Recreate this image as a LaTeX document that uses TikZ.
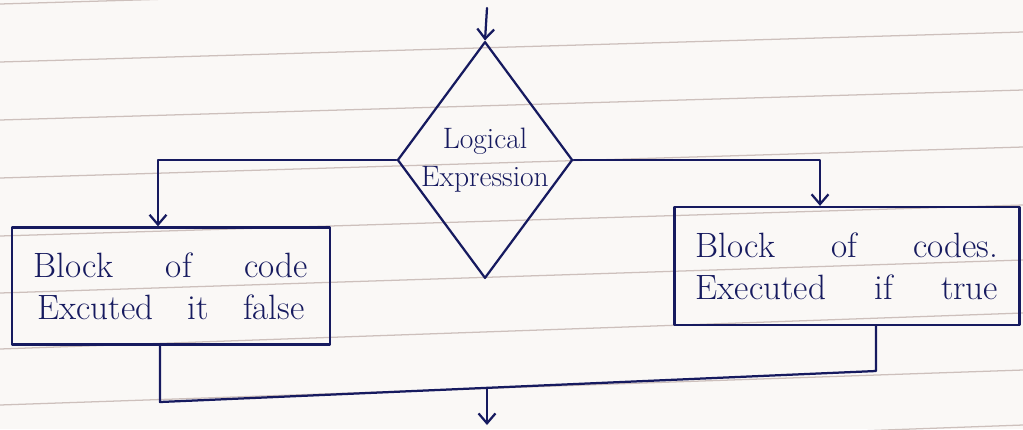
\documentclass[tikz,border=0pt]{standalone}
\usetikzlibrary{shapes.geometric,arrows.meta}
\definecolor{ink}{RGB}{22,26,95}
\definecolor{paper}{RGB}{250,248,246}
\definecolor{ruling}{RGB}{205,192,188}
\begin{document}
\begin{tikzpicture}[x=0.025cm,y=-0.025cm,
  inkline/.style={draw=ink,line width=1.6pt,line cap=round,line join=round},
  arr/.style={inkline,-{Straight Barb[length=7pt,width=12pt]}},
  codebox/.style={inkline,rectangle,inner sep=0pt,align=center,text=ink,font=\fontsize{25}{30}\selectfont},
  decision/.style={inkline,diamond,aspect=0.74,inner sep=0pt,minimum width=4.25cm,minimum height=5.75cm,text=ink,align=center,font=\fontsize{21}{27}\selectfont}]
\useasboundingbox (0,0) rectangle (1023,429);
\clip (0,0) rectangle (1023,429);
\fill[paper] (0,0) rectangle (1023,429);
\foreach \a/\b in {4/-26,62/32,120/90,178/147,236/205,293/260,349/313,405/370,462/425}
  \draw[ruling,line width=0.9pt] (0,\a) -- (1023,\b);
% nodes
\node[decision] (d) at (485,160) {Logical\\Expression};
\node[codebox,minimum width=7.95cm,minimum height=2.925cm] (fb) at (171,286)
  {\makebox[195pt][s]{Block of code}\\ \makebox[190pt][s]{Excuted it false}};
\node[codebox,minimum width=8.625cm,minimum height=2.95cm] (tb) at (847,266)
  {\makebox[215pt][s]{Block of codes.}\\ \makebox[215pt][s]{Executed if true}};
% coordinates
\coordinate (start) at (487,8);
\coordinate (fx) at (158,0);
\coordinate (tx) at (820,0);
\coordinate (bl) at (160,402);
\coordinate (br) at (876,371);
\coordinate (j) at (487,388);
\coordinate (exit) at (487,425);
% connectors
\draw[arr] (start) -- (d.north);
\draw[arr] (d.west) -| (fx |- fb.north);
\draw[arr] (d.east) -| (tx |- tb.north);
\draw[inkline] (fb.south -| bl) -- (bl) -- (br) -- (tb.south -| br);
\draw[arr] (j) -- (exit);
\end{tikzpicture}
\end{document}
